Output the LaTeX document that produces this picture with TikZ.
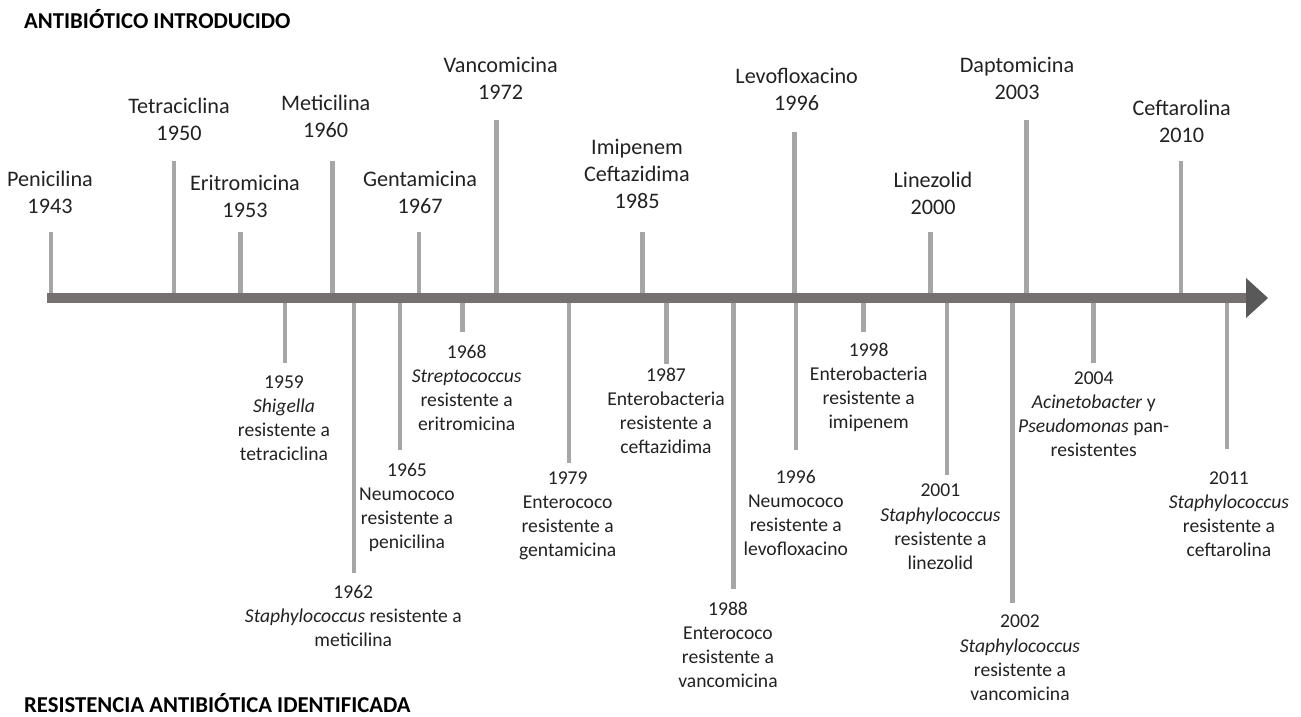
\documentclass[tikz,border=0pt]{standalone}
\usepackage{fontspec}
\setmainfont{Carlito}
\usepackage{tikz}
\usetikzlibrary{positioning}

\definecolor{bargray}{HTML}{767171}
\definecolor{headgray}{HTML}{595959}
\definecolor{tickgray}{HTML}{A6A6A6}
\definecolor{labeltext}{HTML}{222222}

\begin{document}
\begin{tikzpicture}[x=1pt,y=-1pt,
    tick/.style={line width=4.6pt,draw=tickgray},
    axis line/.style={line width=10.5pt,draw=bargray},
    drug/.style={anchor=south,align=center,inner sep=0pt,text=labeltext,
                 font=\fontsize{22.2}{27}\selectfont},
    resist/.style={anchor=north,align=center,inner sep=0pt,text=labeltext,
                   font=\fontsize{19.6}{24.1}\selectfont},
    heading/.style={anchor=base west,inner sep=0pt,font=\fontsize{22.7}{26}\selectfont\bfseries}]

  \useasboundingbox (0,0) rectangle (1301,716);

  \node[heading] (top title) at (24,28.6) {ANTIBIÓTICO INTRODUCIDO};
  \node[heading] (bottom title) at (24,712.5) {RESISTENCIA ANTIBIÓTICA IDENTIFICADA};

  % ticks above and below the axis
  \foreach \n/\x/\y in {d1943/51/232, d1950/174/161, d1953/240.7/232, d1960/332.7/161,
                        d1967/419/232, d1972/496.7/120, d1985/642.7/232, d1996/794.3/132,
                        d2000/930.3/232, d2003/1026.7/120, d2010/1181/161,
                        r1959/285/363, r1962/354/572.7, r1965/400/450, r1968/462.3/332,
                        r1979/569/463, r1987/666.7/364, r1988/733.3/589, r1996/795.8/450,
                        r1998/863.3/331.7, r2001/947/475, r2002/1012.5/603,
                        r2004/1093.7/362.7, r2011/1227/449} {
    \coordinate (b\n) at (\x,298);
    \coordinate (e\n) at (\x,\y);
    \draw[tick] (b\n) -- (e\n);
  }

  \coordinate (axis start) at (47,298);
  \coordinate (axis end) at (1247,298);
  \draw[axis line] (axis start) -- (axis end);
  \fill[headgray] (1246,278) -- (1268,298) -- (1246,318) -- cycle;

  \node[drug] (penicilina)   at (50,214)    {Penicilina\\1943};
  \node[drug] (tetraciclina) at (179,141)   {Tetraciclina\\1950};
  \node[drug] (eritromicina) at (245,218)   {Eritromicina\\1953};
  \node[drug] (meticilina)   at (325.7,138) {Meticilina\\1960};
  \node[drug] (gentamicina)  at (420,214)   {Gentamicina\\1967};
  \node[drug] (vancomicina)  at (500.7,100) {Vancomicina\\1972};
  \node[drug] (imipenem)     at (637,209)   {Imipenem\\Ceftazidima\\1985};
  \node[drug] (levofloxacino) at (796.7,111) {Levofloxacino\\1996};
  \node[drug] (linezolid)    at (933,215)   {Linezolid\\2000};
  \node[drug] (daptomicina)  at (1017,100)  {Daptomicina\\2003};
  \node[drug] (ceftarolina)  at (1181.7,143) {Ceftarolina\\2010};

  \node[resist] (res1959) at (284,375.5)   {1959\\\textit{Shigella}\\resistente a\\tetraciclina};
  \node[resist] (res1962) at (353.3,585)   {1962\\\textit{Staphylococcus} resistente a\\meticilina};
  \node[resist] (res1965) at (407,463)     {1965\\Neumococo\\resistente a\\penicilina};
  \node[resist] (res1968) at (466.7,345)   {1968\\\textit{Streptococcus}\\resistente a\\eritromicina};
  \node[resist] (res1979) at (567.7,471.5) {1979\\Enterococo\\resistente a\\gentamicina};
  \node[resist] (res1987) at (666,368)     {1987\\Enterobacteria\\resistente a\\ceftazidima};
  \node[resist] (res1988) at (728,602)     {1988\\Enterococo\\resistente a\\vancomicina};
  \node[resist] (res1996) at (795.8,470)   {1996\\Neumococo\\resistente a\\levofloxacino};
  \node[resist] (res1998) at (868.7,343)   {1998\\Enterobacteria\\resistente a\\imipenem};
  \node[resist] (res2001) at (940.4,484)   {2001\\\textit{Staphylococcus}\\resistente a\\linezolid};
  \node[resist] (res2002) at (1020,615)    {2002\\\textit{Staphylococcus}\\resistente a\\vancomicina};
  \node[resist] (res2004) at (1093.7,371.5) {2004\\\textit{Acinetobacter} y\\\textit{Pseudomonas} pan-\\resistentes};
  \node[resist] (res2011) at (1229,471.5)  {2011\\\textit{Staphylococcus}\\resistente a\\ceftarolina};
\end{tikzpicture}
\end{document}
